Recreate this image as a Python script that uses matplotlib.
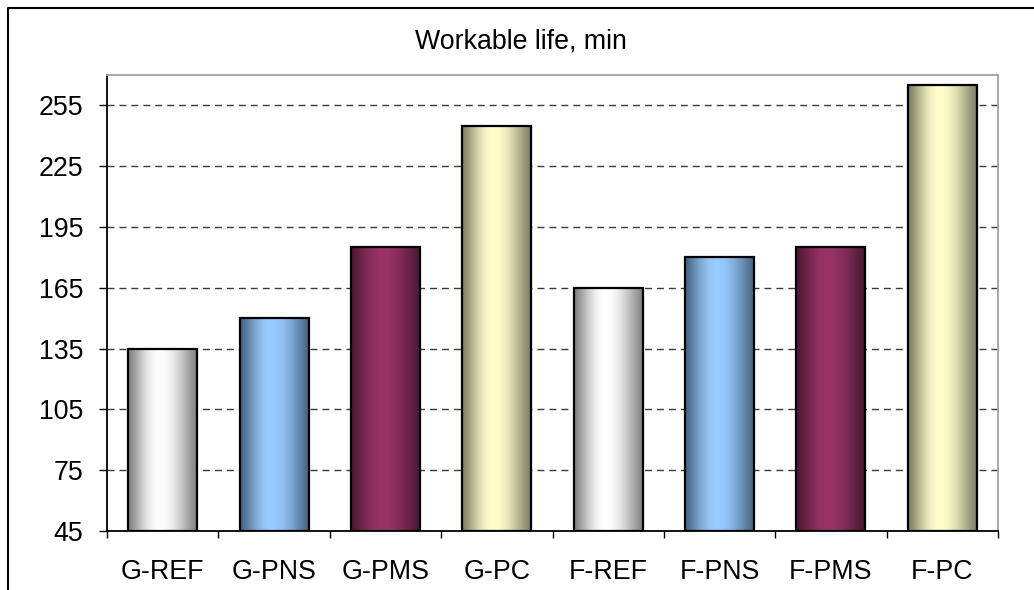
import numpy as np
import matplotlib
matplotlib.use("Agg")
import matplotlib.pyplot as plt
from matplotlib.colors import to_rgb
from matplotlib.lines import Line2D

# Data
categories = ["G-REF", "G-PNS", "G-PMS", "G-PC", "F-REF", "F-PNS", "F-PMS", "F-PC"]
workable_life = [135, 150, 185, 245, 165, 180, 185, 265]
y_ticks = [45, 75, 105, 135, 165, 195, 225, 255]
title = "Workable life, min"

# Two-colour horizontal gradients (edge colour, highlight colour) per mix type
gradients = {
    "REF": ("#7f7f7f", "#ffffff"),
    "PNS": ("#44627f", "#99ccff"),
    "PMS": ("#481832", "#993366"),
    "PC": ("#7c7c62", "#ffffcc"),
}

plt.rcParams["font.family"] = ["Liberation Sans", "DejaVu Sans"]
FS = 19.3

fig = plt.figure(figsize=(10.34, 5.90), dpi=100)
ax = fig.add_axes([107 / 1034, 1 - 531 / 590, (998 - 107) / 1034, (531 - 75) / 590])

ymin, ymax = 45, 270
x = np.arange(len(categories))
bar_w = 0.62

bars = ax.bar(x, np.array(workable_life) - ymin, bottom=ymin, width=bar_w,
              facecolor="none", edgecolor="black", linewidth=1.6, zorder=3)


def gradient_image(edge, light, n=256, peak=0.45):
    s = np.linspace(0, 1, n)
    t = np.where(s < peak, s / peak, (1 - s) / (1 - peak))
    t = np.sin(t * np.pi / 2) ** 1.2
    c0 = np.array(to_rgb(edge))
    c1 = np.array(to_rgb(light))
    row = c0[None, :] * (1 - t[:, None]) + c1[None, :] * t[:, None]
    return row[None, :, :]


for rect, name in zip(bars, categories):
    edge, light = gradients[name.split("-")[1]]
    x0 = rect.get_x()
    x1 = x0 + rect.get_width()
    y0 = rect.get_y()
    y1 = y0 + rect.get_height()
    ax.imshow(gradient_image(edge, light), extent=(x0, x1, y0, y1),
              aspect="auto", interpolation="bilinear", zorder=2)

ax.set_xlim(-0.5, len(categories) - 0.5)
ax.set_ylim(ymin, ymax)

# Gridlines
for yv in y_ticks[1:]:
    ax.axhline(yv, color="#3a3a3a", linewidth=1.0, linestyle=(0, (5, 3.6)), zorder=1)

# Axes styling
for side in ("left", "bottom"):
    ax.spines[side].set_color("black")
    ax.spines[side].set_linewidth(1.3)
for side in ("top", "right"):
    ax.spines[side].set_color("#a0a0a0")
    ax.spines[side].set_linewidth(1.3)

ax.set_yticks(y_ticks)
ax.set_yticklabels([str(v) for v in y_ticks])
ax.tick_params(axis="y", direction="out", length=6, width=1.0, pad=11, labelsize=FS)

ax.set_xticks(x)
ax.set_xticklabels(categories)
ax.tick_params(axis="x", which="major", length=0, pad=20.5, labelsize=FS)
ax.set_xticks(np.arange(len(categories) + 1) - 0.5, minor=True)
ax.tick_params(axis="x", which="minor", direction="out", length=5, width=1.0)

# Title
fig.text(521 / 1034, 1 - 42 / 590, title, ha="center", va="center", fontsize=FS)

# Chart frame
fig.add_artist(Line2D([8 / 1034, 8 / 1034, 1.01], [0, 1 - 8 / 590, 1 - 8 / 590],
                      transform=fig.transFigure, color="black", linewidth=1.5))

fig.savefig("out.png", dpi=100)
